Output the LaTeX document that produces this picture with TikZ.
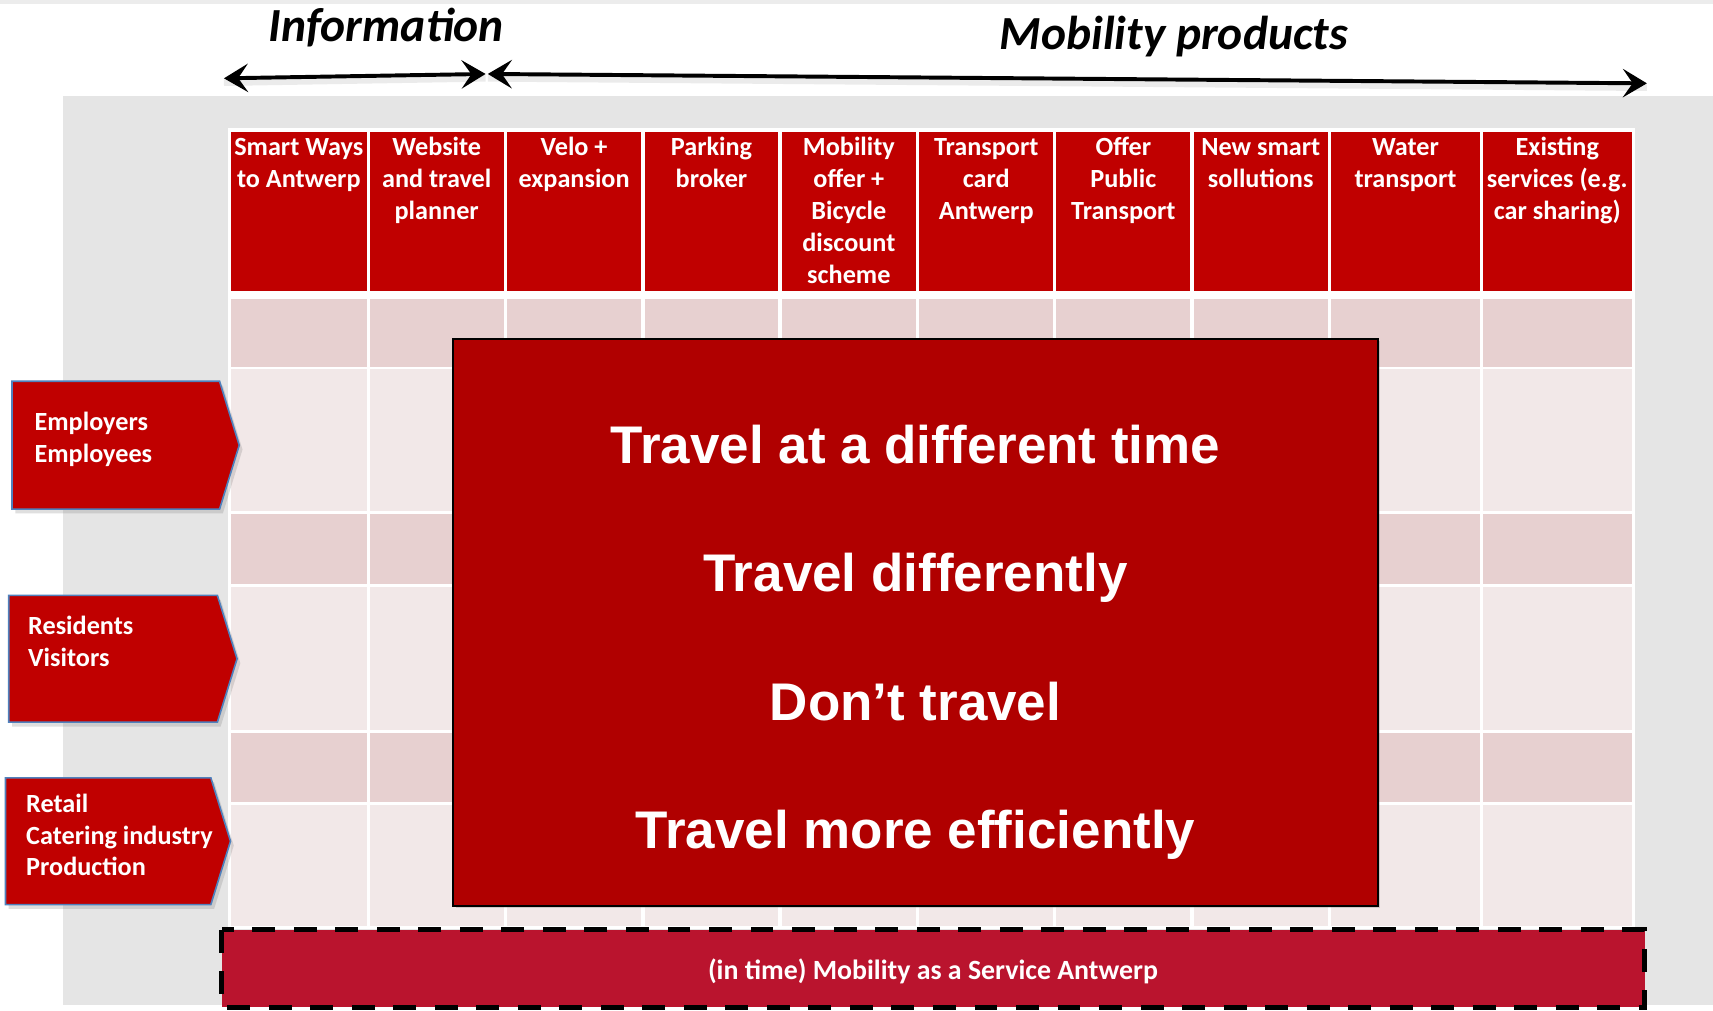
\documentclass[tikz,border=0pt]{standalone}
\usepackage{fontspec}
\setmainfont{Carlito}
\newfontfamily\arialf{Liberation Sans}
\usetikzlibrary{arrows.meta,shadows}
\definecolor{bggrey}{RGB}{229,229,229}
\definecolor{hdrred}{RGB}{192,0,0}
\definecolor{rowdark}{RGB}{231,208,208}
\definecolor{rowlight}{RGB}{242,232,232}
\definecolor{boxred}{RGB}{176,0,0}
\definecolor{maasred}{RGB}{186,20,46}
\definecolor{lblborder}{RGB}{79,129,189}
\tikzset{
  hdrtxt/.style={font=\fontsize{24}{29.2}\selectfont\bfseries, text=white, align=center, anchor=base, inner sep=0pt},
  lbltxt/.style={font=\fontsize{24}{29}\selectfont\bfseries, text=white, align=left, anchor=base west, inner sep=0pt},
  lblshape/.style={fill=hdrred, draw=lblborder, line width=1.5pt, line join=miter,
    drop shadow={opacity=0.25, shadow xshift=3pt, shadow yshift=-4pt}},
  bigtxt/.style={font=\fontsize{48.5}{56}\selectfont\arialf\bfseries, text=white, anchor=base, inner sep=0pt},
  titletxt/.style={font=\fontsize{43.5}{50}\selectfont\bfseries\itshape, text=black, anchor=base, inner sep=0pt},
  toparrow/.style={line width=3.6pt, {Stealth[length=22pt,width=26pt,inset=9pt]}-{Stealth[length=22pt,width=26pt,inset=9pt]}},
  arrowshade/.style={line width=6pt, draw=black, opacity=0.08},
  maasbox/.style={fill=maasred, draw=black, line width=4.5pt, dash pattern=on 21pt off 17pt},
}
\begin{document}
\begin{tikzpicture}[x=1pt,y=-1pt]
\useasboundingbox (0,0) rectangle (1568,925);
\fill[white] (0,0) rectangle (1568,925);
\fill[gray!15] (0,0) rectangle (1568,4);
\fill[bggrey] (57.5,88) rectangle (1568,920);

% table
\fill[white] (209,117) rectangle (1497,850);
\foreach \a/\b in {210/337,337/462.5,462.5/588.5,588.5/714,714/840,840/965.5,965.5/1091,1091/1217,1217/1356,1356/1495}{
  \fill[hdrred] (\a+1.5,120.5) rectangle (\b-1.5,266);
  \foreach \r/\s/\c in {274/335.5/rowdark,337.5/468/rowlight,470.5/534.5/rowdark,537/668/rowlight,670.5/734/rowdark,737/848/rowlight}{
    \fill[\c] (\a+1.5,\r) rectangle (\b-1.5,\s);
  }
}
\foreach \a/\b/\n/\t [count=\i] in {
  210/337/2/{Smart Ways\\to Antwerp},
  337/462.5/3/{Website\\and travel\\planner},
  462.5/588.5/2/{Velo +\\expansion},
  588.5/714/2/{Parking\\broker},
  714/840/5/{Mobility\\offer +\\Bicycle\\discount\\scheme},
  840/965.5/3/{Transport\\card\\Antwerp},
  965.5/1091/3/{Offer\\Public\\Transport},
  1091/1217/2/{New smart\\sollutions},
  1217/1356/2/{Water\\transport},
  1356/1495/3/{Existing\\services (e.g.\\car sharing)}}{
  \node[hdrtxt] (h\i) at ({(\a+\b)/2},{142.5+(\n-1)*29.2}) {\t};
}

% titles and arrows
\node[titletxt] (info) at (353.5,38) {Information};
\node[titletxt] (mob) at (1074.5,45) {Mobility products};
\coordinate (i1) at (205,71.7);
\coordinate (i2) at (444.5,67.7);
\coordinate (m1) at (446.5,67.7);
\coordinate (m2) at (1507.5,76.3);
\draw[arrowshade] ([yshift=-4pt]i1) -- ([yshift=-4pt]i2);
\draw[arrowshade] ([yshift=-4pt]m1) -- ([yshift=-4pt]m2);
\draw[toparrow] (i1) -- (i2);
\draw[toparrow] (m1) -- (m2);

% left labels
\path[lblshape] (11,349) -- (201,349) -- (219,407.5) -- (201,466) -- (11,466) -- cycle;
\node[lbltxt] (emp) at (31.5,423) {Employers\\Employees};
\path[lblshape] (8,545) -- (199,545) -- (217,603) -- (199,661) -- (8,661) -- cycle;
\node[lbltxt] (res) at (25.6,610) {Residents\\Visitors};
\path[lblshape] (5,712) -- (193,712) -- (211,770) -- (193,828) -- (5,828) -- cycle;
\node[lbltxt] (ret) at (23.8,801.7) {Retail\\Catering industry\\Production};

% central box
\node[draw=black, line width=2pt, fill=boxred, minimum width=846pt, minimum height=519pt, inner sep=0pt,
  drop shadow={opacity=0.3, shadow xshift=2pt, shadow yshift=-2pt}] (core) at (838,569.5) {};
\node[bigtxt] (t1) at (838,424.7) {Travel at a different time};
\node[bigtxt] (t2) at (838,541.6) {Travel differently};
\node[bigtxt] (t3) at (838,659.7) {Don’t travel};
\node[bigtxt] (t4) at (838,777) {Travel more efficiently};

% MaaS bar
\draw[maasbox] (203,851) rectangle (1505.5,922);
\node[font=\fontsize{25.5}{30}\selectfont\bfseries, text=white, anchor=base, inner sep=0pt] (maas) at (854,896.4) {(in time) Mobility as a Service Antwerp};
\end{tikzpicture}
\end{document}
